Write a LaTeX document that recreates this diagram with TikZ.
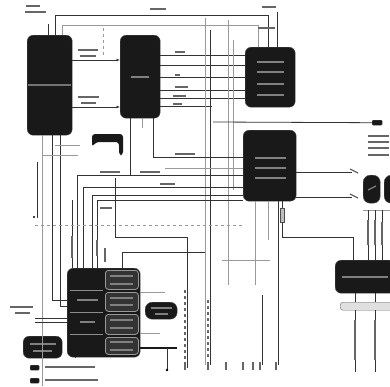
\documentclass[tikz,border=0pt]{standalone}
\usetikzlibrary{arrows.meta}
\begin{document}
\begin{tikzpicture}[x=1pt,y=-1pt,
  box/.style={fill=black!90, draw=black!70, rounded corners=6pt, inner sep=0pt, anchor=north west},
  sub/.style={fill=black!80, draw=black!40, line width=0.8pt, rounded corners=3pt, inner sep=0pt, anchor=north west},
  wire/.style={black!80, line width=0.8pt},
  faint/.style={black!40, line width=0.5pt},
  tbar/.style={black!60, line width=1.3pt},
  wbar/.style={black!50, line width=1.2pt},
  arr/.style={wire,-{Latex[length=3.5pt,width=3pt]}}]
\useasboundingbox[fill=white] (0,0) rectangle (390,386);

% ---------- main blocks ----------
\node[box,minimum width=45pt,minimum height=100pt] (A) at (27,35) {};
\node[box,minimum width=40pt,minimum height=83pt] (B) at (120,35) {};
\node[box,minimum width=50pt,minimum height=60pt] (C) at (245,47) {};
\node[box,minimum width=53pt,minimum height=71pt] (D) at (243,130) {};
\node[box,minimum width=60pt,minimum height=33pt] (E) at (335,260) {};
\node[draw=black!60,fill=black!12,rounded corners=3pt,minimum width=55pt,minimum height=8pt,inner sep=0pt,anchor=north west] (Ebar) at (340,302) {};
\node[box,rounded corners=7pt,minimum width=17pt,minimum height=28pt] (O1) at (363,175) {};
\node[box,rounded corners=7pt,minimum width=14pt,minimum height=28pt] (O2) at (384,175) {};
\node[box,minimum width=73pt,minimum height=89pt] (F) at (67,268) {};
\node[sub,minimum width=33pt,minimum height=19pt] (F1) at (105,270) {};
\node[sub,minimum width=33pt,minimum height=19pt] (F2) at (105,292) {};
\node[sub,minimum width=33pt,minimum height=20pt] (F3) at (105,314) {};
\node[sub,minimum width=33pt,minimum height=17pt] (F4) at (105,337) {};
\node[box,rounded corners=7pt,minimum width=32pt,minimum height=17pt] (G) at (145,302) {};
\node[box,minimum width=39pt,minimum height=22pt] (H) at (23,336) {};
\node[box,rounded corners=1pt,minimum width=9pt,minimum height=5pt] (L1) at (30,365) {};
\node[box,rounded corners=1pt,minimum width=9pt,minimum height=5pt] (L2) at (30,378) {};
\node[box,rounded corners=1pt,minimum width=10pt,minimum height=5pt] (K) at (372,120) {};
\fill[black!90,rounded corners=3pt] (92,134) -- (123,134) -- (123,155) -- (119,155) -- (119,142) -- (96,142) -- (92,147) -- cycle;

% inner text-like marks
\draw[black!55,line width=1.5pt] (28,85) -- (71,85);
\draw[wbar] (131,77) -- (149,77);
\foreach \y in {62,72,84,95} \draw[wbar] (257,\y) -- (284,\y);
\foreach \y in {158,168,178} \draw[wbar] (255,\y) -- (286,\y);
\draw[wbar] (342,277) -- (388,277);
\draw[black!45,line width=0.8pt] (70,290) -- (103,290) (70,312) -- (103,312) (70,334) -- (103,334);
\draw[wbar] (77,300) -- (98,300) (80,322) -- (95,322);
\foreach \y in {276,284,298,305,320,328,342,350} \draw[wbar] (110,\y) -- (133,\y);
\draw[wbar] (151,308) -- (172,308) (155,314) -- (168,314);
\draw[wbar] (30,344) -- (56,344) (33,351) -- (52,351);
\draw[wbar] (368,190) -- (376,186);

% ---------- top wiring ----------
\draw[wire] (55,35) |- (268,15) -- (268,47);
\draw[faint] (62,35) |- (258,25) -- (258,47);
\draw[wire] (48,35) -- (48,24);
\draw[wire] (277,47) -- (277,12);
\draw[tbar] (26,6) -- (40,6) (25,12) -- (46,12) (150,9) -- (166,9) (262,7) -- (276,7) (258,28) -- (275,28);

% A -> B
\draw[arr] (72,60) -- (B.west |- 0,60);
\draw[arr] (72,107) -- (B.west |- 0,107);
\draw[tbar] (78,50) -- (98,50) (80,56) -- (96,56) (78,97) -- (99,97) (81,103) -- (96,103);
\draw[faint,dashed] (103,28) -- (103,58);

% B -> C
\foreach \y in {55,65,77,90,98} \draw[wire] (160,\y) -- (C.west |- 0,\y);
\draw[wire] (160,106) -- (212,106);
\draw[tbar] (175,52) -- (185,52) (175,75) -- (180,75) (175,87) -- (188,87) (173,96) -- (186,96) (173,104) -- (182,104);

% long verticals
\draw[faint] (205,18) -- (205,365);
\draw[wire] (210,30) -- (210,365);
\draw[faint] (228,20) -- (228,285);
\draw[faint] (233,40) -- (233,190);
\draw[wire] (213,122) -- (K.west);
\draw[faint] (255,201) -- (255,285);
\draw[faint] (268,201) -- (268,240);
\draw[wire] (262,295) -- (262,365);
\draw[wire] (278,201) -- (278,365);
\draw[faint] (222,260) -- (270,260);
\draw[wire] (187,237) -- (187,368);
\draw[tbar,dashed] (185,290) -- (185,360);
\draw[tbar,dashed] (208,300) -- (208,358);

% B bottom
\draw[wire] (130,118) -- (130,175);
\draw[faint] (142,118) -- (142,128);
\draw[wire] (153,118) |- (D.west |- 0,157);

% left verticals from A and lines to D
\draw[faint] (42,135) -- (42,386);
\draw[wire] (52,135) |- (F.west |- 0,300);
\draw[wire] (60,135) |- (F.west |- 0,306);
\draw[faint] (42,155) -- (78,155);
\draw[faint] (55,145) -- (80,145);
\draw[wire] (37,162) -- (37,218);
\fill (34,217) circle (1.2pt);
\draw[wire] (77,175) -- (D.west |- 0,175);
\draw[wire] (83,187) -- (D.west |- 0,187);
\draw[wire] (92,195) -- (D.west |- 0,195);
\draw[wire] (97,200) -- (D.west |- 0,200);
\draw[faint] (165,168) -- (D.west |- 0,168);
\draw[wire] (77,175) -- (77,268) (83,187) -- (83,268) (92,195) -- (92,268) (97,200) -- (97,268);
\draw[wire] (72,200) -- (72,268);
\draw[tbar] (100,172) -- (120,172) (140,172) -- (160,172) (175,154) -- (195,154) (160,184) -- (175,184) (100,208) -- (112,208);
\draw[faint,dashed] (35,225) -- (243,225);
\draw[wire] (115,178) |- (187,237);
\draw[wire] (122,268) |- (205,252);
\draw[tbar] (97,240) -- (97,256) (105,248) -- (105,262) (72,236) -- (72,258);

% D right / bottom
\draw[wire] (D.east |- 0,172) -- (352,172);
\draw[wire] (D.east |- 0,197) -- (352,197);
\draw[tbar] (350,169) -- (358,173) (350,194) -- (358,198);
\draw[wire] (282,201) -- (282,237) -- (353,237) -- (353,260);
\draw[draw=black!70,fill=black!25] (280,208) rectangle (284,222);
\foreach \y in {136,142,148,155} \draw[tbar] (368,\y) -- (389,\y);

% E wiring
\draw[faint] (363,210) -- (390,210);
\foreach \x in {368,375,382} \draw[wire] (\x,210) -- (\x,260);
\draw[tbar] (368,220) -- (368,245) (375,220) -- (375,245) (382,222) -- (382,245);
\draw[wire] (355,293) -- (355,302) (375,293) -- (375,302);
\draw[wire] (355,310) -- (355,372) (375,310) -- (375,372);
\draw[tbar] (355,320) -- (355,360) (375,320) -- (375,360);

% F surroundings
\draw[faint] (F.east |- 0,292) -- (165,292);
\draw[faint] (F.east |- 0,333) -- (160,333);
\draw[black!90,line width=2pt] (140,348) -- (177,348);
\draw[wire] (167,348) -- (167,370);
\fill (167,370) circle (1.3pt);
\draw[wire] (35,318) -- (F.west |- 0,318);
\draw[wire] (35,322) -- (F.west |- 0,322);
\draw[tbar] (10,307) -- (33,307) (15,313) -- (30,313);
\draw[wire] (F.south -| 75,0) -- (75,357);

% bottom terminal labels
\foreach \x in {187,210,228,245,255,262,278} \draw[tbar] (\x-2,362) -- (\x-2,370);
\draw[tbar] (45,367) -- (95,367) (45,380) -- (98,380);
\end{tikzpicture}
\end{document}
